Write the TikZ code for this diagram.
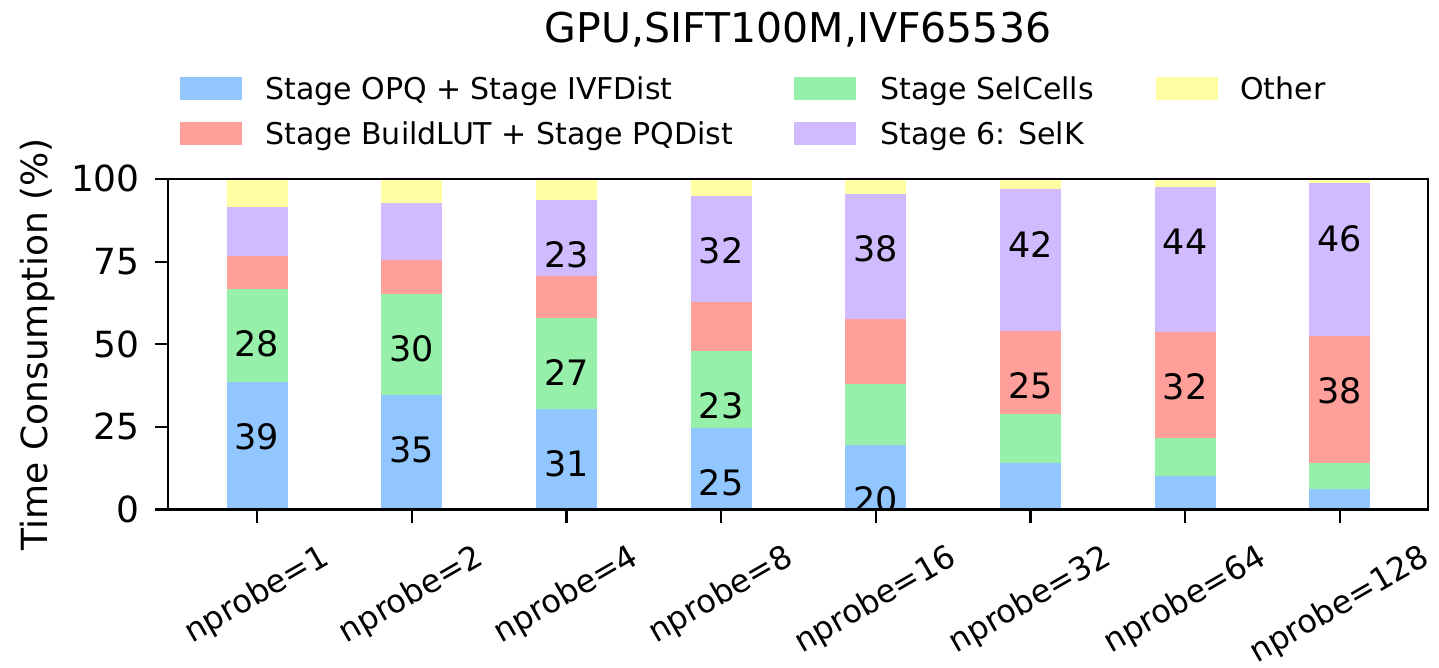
\documentclass[tikz,border=0pt]{standalone}
\usepackage{fontspec}
\setmainfont{DejaVu Sans}
\usepackage{graphicx}
\definecolor{cOPQ}{HTML}{92C6FF}
\definecolor{cLUT}{HTML}{FF9F9A}
\definecolor{cSel}{HTML}{97F0AA}
\definecolor{cSelK}{HTML}{D0BBFF}
\definecolor{cOther}{HTML}{FFFEA3}
\newcommand{\fsz}[1]{\fontsize{#1}{#1}\selectfont}

\begin{document}
\begin{tikzpicture}[x=1pt,y=-1pt,
  declare function={yp(\v)=509.5-3.305*\v; xc(\i)=257+154.7*\i;},
  spine/.style={line width=2.4pt},
  tickmark/.style={line width=2.2pt},
  barlabel/.style={anchor=base,inner sep=0pt,font=\fsz{35}},
  ytlabel/.style={anchor=base east,inner sep=0pt,font=\fsz{36}},
  xtlabel/.style={anchor=north,inner sep=0pt,font=\fsz{32}},
  swatch/.style={minimum width=62pt,minimum height=23pt,inner sep=0pt,draw=none},
  legtext/.style={anchor=base west,inner sep=0pt,font=\fsz{30}}]

\fill[white] (0,0) rectangle (1439,668);
\useasboundingbox (0,0) rectangle (1439,668);

% title
\node[anchor=base,inner sep=0pt,font=\fsz{41}] (title) at (798,43) {GPU,SIFT100M,IVF65536};

% legend
\node[swatch,fill=cOPQ] (sw1) at (211,88.5) {};
\node[legtext] (lt1) at (265,99.5) {Stage OPQ + Stage IVFDist};
\node[swatch,fill=cLUT] (sw2) at (211,134) {};
\node[legtext] (lt2) at (265,145) {Stage BuildLUT + Stage PQDist};
\node[swatch,fill=cSel] (sw3) at (825,88.5) {};
\node[legtext] (lt3) at (880,99.5) {Stage SelCells};
\node[swatch,fill=cSelK] (sw4) at (825,134) {};
\node[legtext] (lt4) at (880,145) {Stage 6: SelK};
\node[swatch,fill=cOther] (sw5) at (1187,88.5) {};
\node[legtext] (lt5) at (1240,99.5) {Other};

% stacked bars: cumulative tops of OPQ, SelCells, BuildLUT, SelK
\foreach \i/\a/\b/\c/\d in {0/38.6/66.7/76.8/91.4, 1/34.6/65.3/75.5/92.7,
    2/30.5/58.0/70.6/93.6, 3/24.8/48.1/62.9/94.8, 4/19.5/38.0/57.5/95.6,
    5/14.2/28.8/54.1/96.9, 6/10.1/21.5/53.8/97.7, 7/6.1/14.2/52.5/98.7} {
  \pgfmathsetmacro\xl{xc(\i)-30.5}
  \pgfmathsetmacro\xr{xc(\i)+30.5}
  \fill[cOPQ]   (\xl,{yp(0)})  rectangle (\xr,{yp(\a)});
  \fill[cSel]   (\xl,{yp(\a)}) rectangle (\xr,{yp(\b)});
  \fill[cLUT]   (\xl,{yp(\b)}) rectangle (\xr,{yp(\c)});
  \fill[cSelK]  (\xl,{yp(\c)}) rectangle (\xr,{yp(\d)});
  \fill[cOther] (\xl,{yp(\d)}) rectangle (\xr,{yp(100)});
}

% segment values, clipped to the axes
\begin{scope}
  \clip (168,179) rectangle (1428,509.5);
  \foreach \i/\t/\v in {0/38.6/39, 0/66.7/28, 1/34.6/35, 1/65.3/30,
      2/30.5/31, 2/58.0/27, 2/93.6/23, 3/24.8/25, 3/48.1/23, 3/94.8/32,
      4/19.5/20, 4/95.6/38, 5/54.1/25, 5/96.9/42, 6/53.8/32, 6/97.7/44,
      7/52.5/38, 7/98.7/46}
    \node[barlabel] (val\i-\v) at ({xc(\i)},{yp(\t)+67.8}) {\v};
\end{scope}

% axes frame
\draw[spine] (168,179) rectangle (1428,509.5);

% y axis
\foreach \v in {0,25,50,75,100} {
  \draw[tickmark] (155,{yp(\v)}) -- (168,{yp(\v)});
  \node[ytlabel] (yt\v) at (140,{yp(\v)+13}) {\v};
}
\node[anchor=base,rotate=90,inner sep=0pt,font=\fsz{36}] (ylab) at (47,344.25) {Time Consumption (\%)};

% x axis
\foreach \i/\n in {0/1,1/2,2/4,3/8,4/16,5/32,6/64,7/128} {
  \draw[tickmark] ({xc(\i)},509.5) -- ({xc(\i)},523);
  \node[xtlabel] (xt\n) at ({xc(\i)},542) {\rotatebox{30}{nprobe=\n}};
}
\end{tikzpicture}
\end{document}
